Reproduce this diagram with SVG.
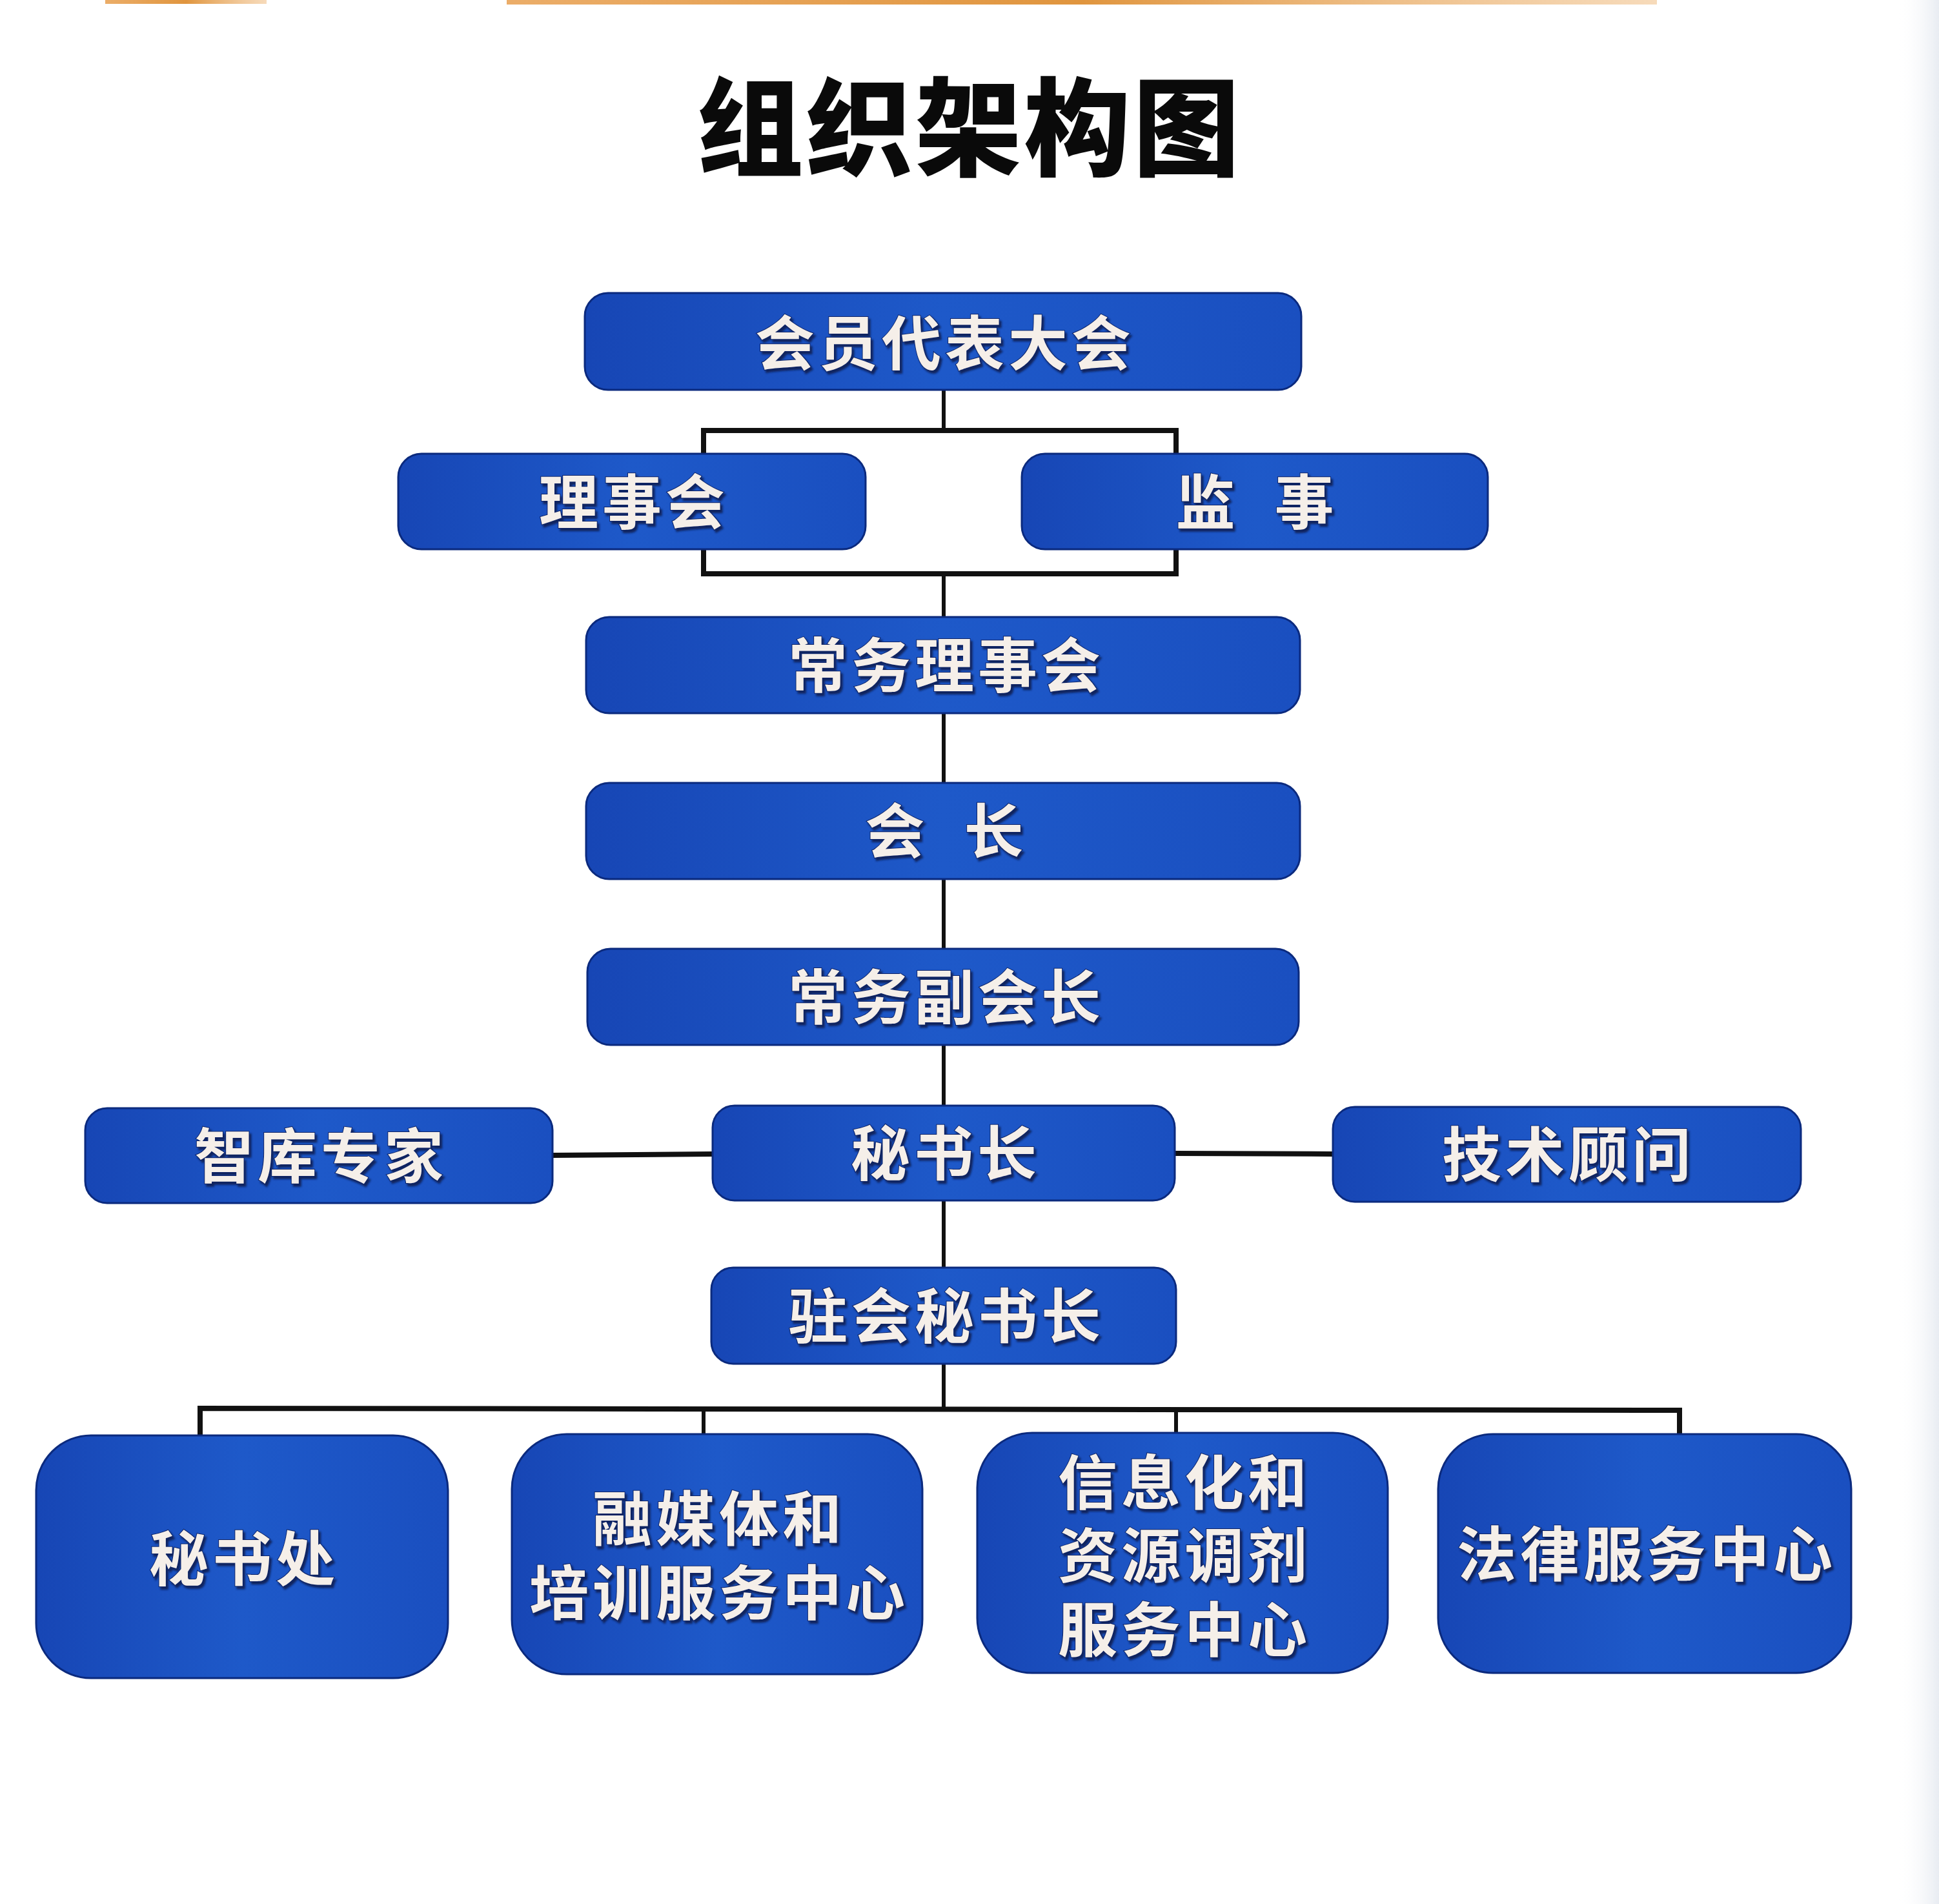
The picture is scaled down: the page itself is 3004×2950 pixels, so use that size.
<svg xmlns="http://www.w3.org/2000/svg" width="3004" height="2950" viewBox="0 0 3004 2950">
<defs>
<linearGradient id="boxg" x1="0" y1="0" x2="1" y2="0">
<stop offset="0" stop-color="#1746b5"/>
<stop offset="0.5" stop-color="#1e59c9"/>
<stop offset="1" stop-color="#1a4fc0"/>
</linearGradient>
<linearGradient id="orange" x1="0" y1="0" x2="1" y2="0">
<stop offset="0" stop-color="#e9a458" stop-opacity="0.9"/>
<stop offset="0.5" stop-color="#e0953e"/>
<stop offset="1" stop-color="#f1c28c" stop-opacity="0.6"/>
</linearGradient>
<linearGradient id="edge" x1="0" y1="0" x2="1" y2="0">
<stop offset="0" stop-color="#ffffff" stop-opacity="0"/>
<stop offset="1" stop-color="#e8ecf2"/>
</linearGradient>
<filter id="ts" x="-10%" y="-10%" width="120%" height="130%">
<feDropShadow dx="3" dy="4" stdDeviation="1.5" flood-color="#071a52" flood-opacity="0.9"/>
</filter>
</defs>
<style>
.box{fill:url(#boxg);stroke:#0b2a7e;stroke-width:3}
.t{font-family:"Noto Sans CJK SC","Noto Sans CJK TC",sans-serif;font-weight:700;font-size:92px;fill:#f5efe9;text-anchor:middle;letter-spacing:6px;stroke:#0d2366;stroke-width:2;paint-order:stroke;filter:url(#ts)}
.title{font-family:"Noto Sans CJK SC","Noto Sans CJK TC",sans-serif;font-weight:900;font-size:165px;fill:#0a0a0a;text-anchor:middle;letter-spacing:4px}
.v{stroke:#111;stroke-width:6;fill:none}
.h{stroke:#111;stroke-width:8;fill:none}
</style>
<rect x="0" y="0" width="3004" height="2950" fill="#ffffff"/>
<rect x="2940" y="0" width="64" height="2950" fill="url(#edge)"/>
<rect x="163" y="0" width="250" height="6" fill="url(#orange)"/>
<rect x="785" y="0" width="1782" height="7" fill="url(#orange)"/>

<text class="title" x="1502" y="259">组织架构图</text>

<g id="connectors">
<line class="v" x1="1462" y1="604" x2="1462" y2="667"/>
<polyline class="h" points="1090,703 1090,667 1822,667 1822,703"/>
<polyline class="h" points="1090,851 1090,889 1822,889 1822,851"/>
<line class="v" x1="1462" y1="889" x2="1462" y2="956"/>
<line class="v" x1="1462" y1="1105" x2="1462" y2="1213"/>
<line class="v" x1="1462" y1="1362" x2="1462" y2="1470"/>
<line class="v" x1="1462" y1="1619" x2="1462" y2="1713"/>
<line class="h" x1="856" y1="1790" x2="1104" y2="1788"/>
<line class="h" x1="1820" y1="1787" x2="2065" y2="1788"/>
<line class="v" x1="1462" y1="1860" x2="1462" y2="1964"/>
<line class="v" x1="1462" y1="2113" x2="1462" y2="2183"/>
<polyline class="h" points="310,2224 310,2182 2602,2185 2602,2222"/>
<line class="v" x1="1090" y1="2183" x2="1090" y2="2222"/>
<line class="v" x1="1822" y1="2184" x2="1822" y2="2220"/>
</g>

<g id="n1"><rect class="box" x="906" y="454" width="1110" height="150" rx="36"/><text class="t" x="1464" y="566">会员代表大会</text></g>
<g id="n2"><rect class="box" x="617" y="703" width="724" height="148" rx="36"/><text class="t" x="982" y="812">理事会</text></g>
<g id="n3"><rect class="box" x="1583" y="703" width="722" height="148" rx="36"/><text class="t" x="1947" y="812" style="word-spacing:28px">监 事</text></g>
<g id="n4"><rect class="box" x="908" y="956" width="1106" height="149" rx="36"/><text class="t" x="1466" y="1065">常务理事会</text></g>
<g id="n5"><rect class="box" x="908" y="1213" width="1106" height="149" rx="36"/><text class="t" x="1466" y="1322" style="word-spacing:28px">会 长</text></g>
<g id="n6"><rect class="box" x="910" y="1470" width="1102" height="149" rx="36"/><text class="t" x="1466" y="1579">常务副会长</text></g>
<g id="n7"><rect class="box" x="132" y="1717" width="724" height="147" rx="34"/><text class="t" x="497" y="1825">智库专家</text></g>
<g id="n8"><rect class="box" x="1104" y="1713" width="716" height="147" rx="34"/><text class="t" x="1465" y="1821">秘书长</text></g>
<g id="n9"><rect class="box" x="2065" y="1715" width="725" height="147" rx="34"/><text class="t" x="2430" y="1823">技术顾问</text></g>
<g id="n10"><rect class="box" x="1102" y="1964" width="720" height="149" rx="34"/><text class="t" x="1466" y="2073">驻会秘书长</text></g>
<g id="n11"><rect class="box" x="56" y="2224" width="638" height="376" rx="85"/><text class="t" x="378" y="2449">秘书处</text></g>
<g id="n12"><rect class="box" x="793" y="2222" width="636" height="372" rx="85"/><text class="t"><tspan x="1114" y="2387">融媒体和</tspan><tspan x="1114" y="2502">培训服务中心</tspan></text></g>
<g id="n13"><rect class="box" x="1514" y="2220" width="636" height="372" rx="85"/><text class="t"><tspan x="1835" y="2331">信息化和</tspan><tspan x="1835" y="2444">资源调剂</tspan><tspan x="1835" y="2559">服务中心</tspan></text></g>
<g id="n14"><rect class="box" x="2228" y="2222" width="640" height="370" rx="85"/><text class="t" x="2551" y="2442">法律服务中心</text></g>
</svg>
